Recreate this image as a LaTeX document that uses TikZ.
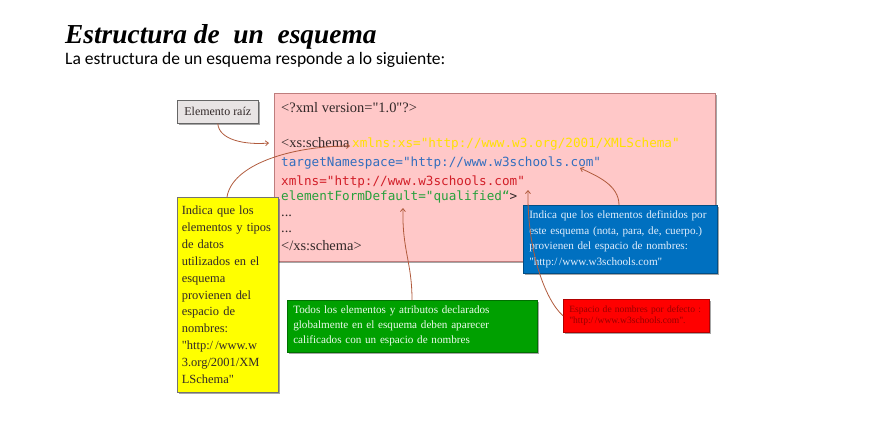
\documentclass[tikz,border=0pt]{standalone}
\usepackage{fontspec}
\setmainfont{Liberation Serif}[Ligatures=TeXOff]
\setmonofont{DejaVu Sans Mono}
\newfontfamily\subfnt{Carlito}
\usetikzlibrary{arrows.meta,shadows}
\definecolor{pinkfill}{RGB}{255,200,200}
\definecolor{pinkline}{RGB}{190,125,125}
\definecolor{connc}{RGB}{176,90,60}
\definecolor{ylwfill}{RGB}{255,255,0}
\definecolor{bluefill}{RGB}{0,112,192}
\definecolor{greenfill}{RGB}{0,160,0}
\definecolor{redfill}{RGB}{255,0,0}
\definecolor{codeY}{RGB}{255,225,0}
\definecolor{codeB}{RGB}{50,110,190}
\definecolor{codeR}{RGB}{210,30,40}
\definecolor{codeG}{RGB}{40,160,60}
\definecolor{darktxt}{RGB}{50,40,40}
\definecolor{erfill}{RGB}{232,228,228}
\begin{document}
\begin{tikzpicture}[x=1bp,y=-1bp,
  conn/.style={draw=connc, line width=0.8bp, -{Straight Barb[length=3bp,width=5bp]}},
  box/.style={anchor=north west, inner ysep=0pt, align=left,
    drop shadow={shadow xshift=1.5bp, shadow yshift=-1.5bp, fill=black, opacity=0.35}},
  codetxt/.style={anchor=base west, inner sep=0pt, text=darktxt, font=\fontsize{14.5}{16}\selectfont},
  monotxt/.style={anchor=base west, inner sep=0pt, font=\ttfamily\fontsize{12.7}{14}\selectfont},
]
\useasboundingbox (0,0) rectangle (874,423);

% title
\node[anchor=base west, inner sep=0pt, font=\bfseries\itshape\fontsize{27.5}{30}\selectfont]
  (title) at (65,43) {Estructura de\ \ un\ \ esquema};
\node[anchor=base west, inner sep=0pt, font=\subfnt\fontsize{17.6}{19}\selectfont]
  (sub) at (65,64) {La estructura de un esquema responde a lo siguiente:};

% pink schema box
\node[box, fill=pinkfill, draw=pinkline, line width=0.7bp, minimum width=441bp, minimum height=168bp]
  (schema) at (274,93) {};

% code lines
\node[codetxt] (l1) at (281,112) {<?xml version="1.0"?>};
\node[codetxt] (l2) at (281,147) {<xs:schema};
\node[monotxt, text=codeY] (l2b) at (352,147) {xmlns:xs="http://www.w3.org/2001/XMLSchema"};
\node[monotxt, text=codeB] (l3) at (281,166) {targetNamespace="http://www.w3schools.com"};
\node[monotxt, text=codeR] (l4) at (281,185) {xmlns="http://www.w3schools.com"};
\node[monotxt, text=codeG] (l5) at (281,200) {elementFormDefault="qualified“\textcolor{darktxt}{ >}};
\node[codetxt] (l6) at (281,216) {...};
\node[codetxt] (l7) at (281,232) {...};
\node[codetxt] (l8) at (281,250) {</xs:schema>};

% Elemento raiz
\node[box, fill=erfill, draw=black!60, line width=0.6bp, minimum width=81bp, minimum height=23bp,
  inner xsep=0pt, align=center, font=\fontsize{12}{14}\selectfont, text=darktxt]
  (er) at (177,100) {Elemento raíz};

% yellow box
\node[box, fill=ylwfill, draw=black!55, line width=0.6bp, minimum width=101bp, minimum height=195bp,
  inner xsep=4.5bp, text width=92bp, font=\fontsize{12.5}{16.9}\selectfont, text=darktxt]
  (ybox) at (177,197) {Indica que los\\ elementos y tipos\\ de datos\\ utilizados en el\\ esquema\\ provienen del\\ espacio de\\ nombres:\\ "http:/\,/www.w\\ 3.org/2001/XM\\ LSchema"};

% blue box
\node[box, fill=bluefill, draw=bluefill!70!black, line width=0.5bp, minimum width=194bp, minimum height=68bp,
  inner xsep=6bp, text width=182bp, font=\fontsize{11.2}{15.6}\selectfont, text={rgb,255:red,225;green,238;blue,252}]
  (bbox) at (523,205) {Indica que los elementos definidos por\\ este esquema (nota, para, de, cuerpo.)\\ provienen del espacio de nombres:\\ "http:/\,/www.w3schools.com"};

% green box
\node[box, fill=greenfill, draw=greenfill!70!black, line width=0.5bp, minimum width=250bp, minimum height=52bp,
  inner xsep=6bp, text width=238bp, font=\fontsize{11.2}{15}\selectfont, text={rgb,255:red,235;green,250;blue,235}]
  (gbox) at (287,300) {Todos los elementos y atributos declarados\\ globalmente en el esquema deben aparecer\\ calificados con un espacio de nombres};

% red box
\node[box, fill=redfill, draw=redfill!70!black, line width=0.5bp, minimum width=146bp, minimum height=33bp,
  inner xsep=6bp, text width=134bp, font=\fontsize{9.6}{11.5}\selectfont, text={rgb,255:red,150;green,0;blue,0}]
  (rbox) at (563,299) {Espacio de nombres por defecto :\\ "http:/\,/www.w3schools.com".};

% arrow targets
\coordinate (t1) at (269,143);
\coordinate (t2) at (350,146);
\coordinate (t3) at (580,168);
\coordinate (t4) at (528,190);
\coordinate (t5) at (403,208);

% connectors
\draw[conn] (er.south) .. controls (219,140) and (245,145) .. (t1);
\draw[conn] ([xshift=50bp]ybox.north west) .. controls (232,165) and (290,146) .. (t2);
\draw[conn] ([xshift=96bp]bbox.north west) .. controls (619,185) and (597,176) .. (t3);
\draw[conn] (rbox.west) .. controls (545,300) and (527,250) .. (t4);
\draw[conn] ([xshift=125bp]gbox.north west) .. controls (412,262) and (402,250) .. (t5);
\end{tikzpicture}
\end{document}
